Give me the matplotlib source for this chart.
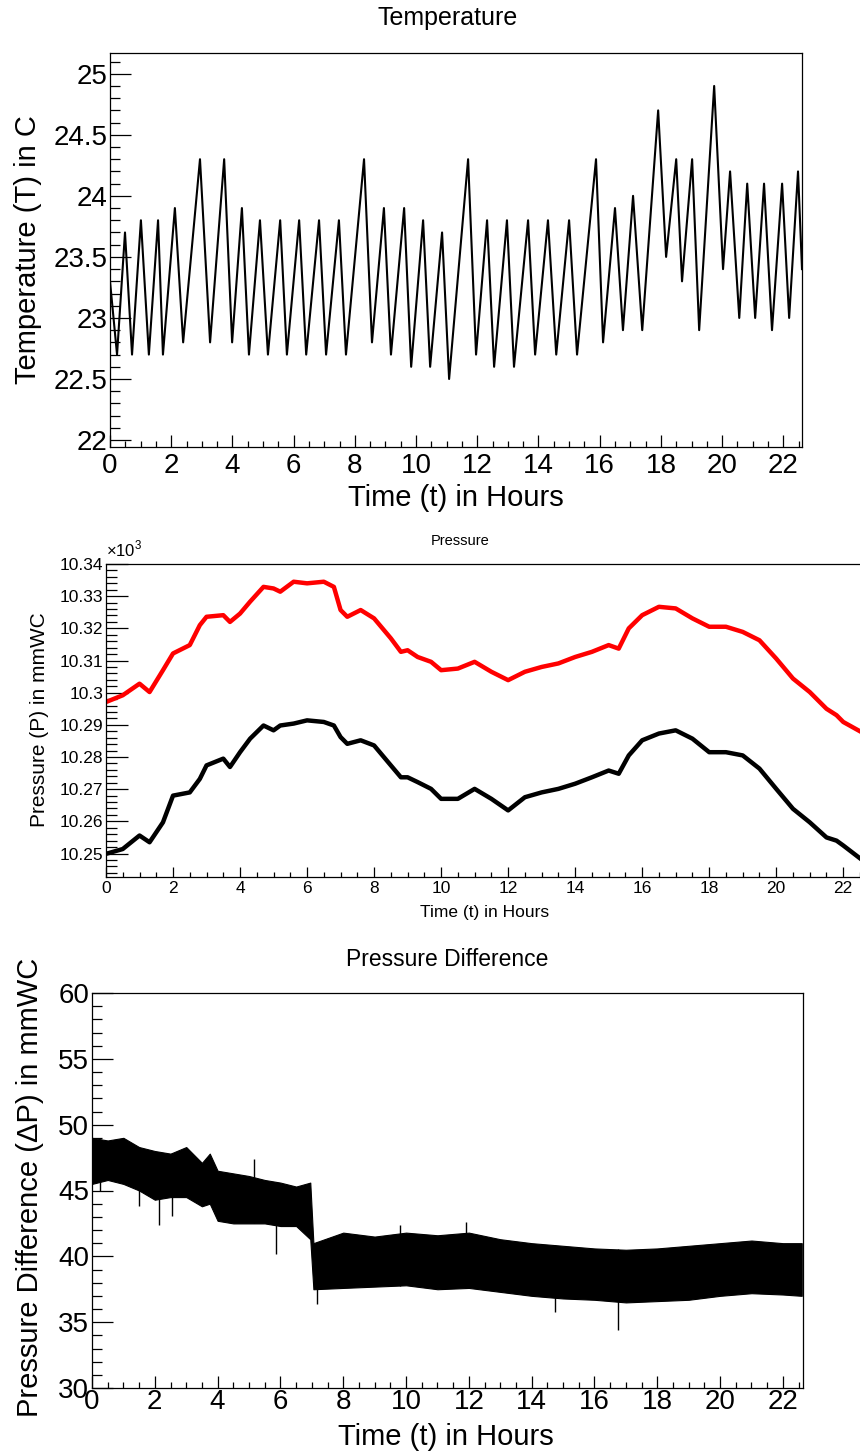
import numpy as np
import matplotlib
matplotlib.use('Agg')
import matplotlib.pyplot as plt
from matplotlib.ticker import MultipleLocator, FormatStrFormatter

plt.rcParams['font.family'] = ['Liberation Sans', 'DejaVu Sans']
plt.rcParams['mathtext.fontset'] = 'custom'
plt.rcParams['mathtext.rm'] = 'Liberation Sans'

# temperature: turning points of the saw-tooth (hours, deg C)
temp_t = [0.00, 0.23, 0.49, 0.72, 1.01, 1.27, 1.57, 1.73, 2.12, 2.39,
          2.94, 3.27, 3.73, 3.99, 4.31, 4.54, 4.90, 5.16, 5.56, 5.78,
          6.18, 6.41, 6.83, 7.06, 7.48, 7.71, 8.30, 8.56, 8.95, 9.18,
          9.61, 9.84, 10.23, 10.46, 10.85, 11.08, 11.70, 11.96, 12.32, 12.55,
          12.97, 13.20, 13.66, 13.89, 14.31, 14.58, 15.00, 15.26, 15.88, 16.11,
          16.50, 16.76, 17.09, 17.39, 17.91, 18.17, 18.50, 18.69, 19.02, 19.25,
          19.74, 20.03, 20.26, 20.56, 20.82, 21.08, 21.37, 21.63, 21.96, 22.19,
          22.48, 22.61]
temp_v = [23.3, 22.7, 23.7, 22.7, 23.8, 22.7, 23.8, 22.7, 23.9, 22.8,
          24.3, 22.8, 24.3, 22.8, 23.9, 22.7, 23.8, 22.7, 23.8, 22.7,
          23.8, 22.7, 23.8, 22.7, 23.8, 22.7, 24.3, 22.8, 23.9, 22.7,
          23.9, 22.6, 23.8, 22.6, 23.7, 22.5, 24.3, 22.7, 23.8, 22.6,
          23.8, 22.6, 23.8, 22.7, 23.8, 22.7, 23.8, 22.7, 24.3, 22.8,
          23.9, 22.9, 24.0, 22.9, 24.7, 23.5, 24.3, 23.3, 24.3, 22.9,
          24.9, 23.4, 24.2, 23.0, 24.1, 23.0, 24.1, 22.9, 24.1, 23.0,
          24.2, 23.4]

# pressure (x10^3 mmWC)
pres_t = [0, 0.5, 1.0, 1.3, 1.7, 2.0, 2.5, 2.8, 3.0, 3.5, 3.7, 4.0, 4.3, 4.7,
          5.0, 5.2, 5.6, 6.0, 6.5, 6.8, 7.0, 7.2, 7.6, 8.0, 8.5, 8.8, 9.0, 9.3,
          9.7, 10.0, 10.5, 11.0, 11.5, 12.0, 12.5, 13.0, 13.5, 14.0, 14.5, 15.0,
          15.3, 15.6, 16.0, 16.5, 17.0, 17.5, 18.0, 18.5, 19.0, 19.5, 20.0, 20.5,
          21.0, 21.5, 21.8, 22.0, 22.5]
pres_red = [10.2971, 10.2992, 10.3028, 10.3002, 10.3070, 10.3122, 10.3148, 10.3210,
            10.3236, 10.3241, 10.3220, 10.3246, 10.3283, 10.3329, 10.3324, 10.3314,
            10.3345, 10.3340, 10.3345, 10.3329, 10.3257, 10.3236, 10.3257, 10.3231,
            10.3169, 10.3127, 10.3132, 10.3111, 10.3096, 10.3070, 10.3075, 10.3096,
            10.3065, 10.3039, 10.3065, 10.3080, 10.3091, 10.3111, 10.3127, 10.3148,
            10.3137, 10.3200, 10.3241, 10.3267, 10.3262, 10.3231, 10.3205, 10.3205,
            10.3189, 10.3163, 10.3106, 10.3044, 10.3002, 10.2950, 10.2930, 10.2909,
            10.2880]
pres_black = [10.2499, 10.2514, 10.2556, 10.2535, 10.2597, 10.2680, 10.2690, 10.2732,
              10.2774, 10.2795, 10.2769, 10.2815, 10.2857, 10.2898, 10.2883, 10.2898,
              10.2904, 10.2914, 10.2909, 10.2898, 10.2862, 10.2841, 10.2852, 10.2836,
              10.2774, 10.2737, 10.2737, 10.2722, 10.2701, 10.2670, 10.2670, 10.2701,
              10.2670, 10.2634, 10.2675, 10.2690, 10.2701, 10.2717, 10.2737, 10.2758,
              10.2748, 10.2805, 10.2852, 10.2873, 10.2883, 10.2857, 10.2815, 10.2815,
              10.2805, 10.2764, 10.2701, 10.2639, 10.2597, 10.2550, 10.2540, 10.2525,
              10.2485]

# pressure difference: noise band edges (mmWC)
dp_t = [0, 0.5, 1.0, 1.5, 2.0, 2.5, 3.0, 3.5, 3.75, 4.0, 4.5, 5.0, 5.5, 6.0, 6.5,
        6.95, 7.05, 8, 9, 10, 11, 12, 13, 14, 15, 16, 17, 18, 19, 20, 21, 22, 22.6]
dp_hi = [49.0, 48.8, 49.0, 48.3, 48.0, 47.8, 48.3, 47.1, 47.8, 46.5, 46.3, 46.1,
         45.8, 45.6, 45.3, 45.6, 41.0, 41.8, 41.5, 41.8, 41.6, 41.8, 41.3, 41.0,
         40.8, 40.6, 40.5, 40.6, 40.8, 41.0, 41.2, 41.0, 41.0]
dp_lo = [45.5, 45.8, 45.5, 45.0, 44.3, 44.5, 44.5, 43.8, 44.0, 42.7, 42.5, 42.5,
         42.5, 42.3, 42.3, 41.3, 37.5, 37.6, 37.7, 37.8, 37.5, 37.6, 37.3, 37.0,
         36.8, 36.7, 36.5, 36.6, 36.7, 37.0, 37.2, 37.1, 37.0]
spike_t = [0.25, 1.51, 2.14, 2.54, 5.17, 5.86, 7.17, 9.8, 11.9, 14.75, 16.75]
spike_v = [45.0, 43.8, 42.4, 43.1, 47.4, 40.2, 36.4, 42.4, 42.6, 35.8, 34.4]

fig = plt.figure(figsize=(8.6, 14.55), dpi=100)
W, H = 860.0, 1455.0


def box(l, t, r, b):
    return [l / W, 1 - b / H, (r - l) / W, (b - t) / H]


def style(ax, xlen, ylen, size):
    ax.tick_params(which='both', direction='in', top=False, right=False, width=0.9)
    ax.tick_params(axis='x', which='major', length=xlen, labelsize=size, pad=4)
    ax.tick_params(axis='x', which='minor', length=xlen / 2)
    ax.tick_params(axis='y', which='major', length=ylen, labelsize=size, pad=2)
    ax.tick_params(axis='y', which='minor', length=ylen / 2)
    for sp in ax.spines.values():
        sp.set_linewidth(0.9)


# --- Temperature ---
ax1 = fig.add_axes(box(110, 53, 802, 447))
ax1.plot(temp_t, temp_v, color='black', lw=1.5)
ax1.set_xlim(0, 22.61)
ax1.set_ylim(21.943, 25.17)
ax1.xaxis.set_major_locator(MultipleLocator(2))
ax1.xaxis.set_minor_locator(MultipleLocator(0.5))
ax1.yaxis.set_major_locator(MultipleLocator(0.5))
ax1.yaxis.set_minor_locator(MultipleLocator(0.1))
ax1.yaxis.set_major_formatter(FormatStrFormatter('%g'))
style(ax1, 8.5, 15, 20)
fig.text(448 / W, 1 - 18 / H, 'Temperature', ha='center', va='center', fontsize=18)
fig.text(456 / W, 1 - 498 / H, 'Time (t) in Hours', ha='center', va='center', fontsize=21)
fig.text(28 / W, 1 - 250 / H, 'Temperature (T) in C', ha='center', va='center',
         rotation=90, fontsize=21)

# --- Pressure ---
ax2 = fig.add_axes(box(106, 564, 860, 877))
ax2.plot(pres_t, pres_red, color='red', lw=3.2)
ax2.plot(pres_t, pres_black, color='black', lw=3.2)
ax2.set_xlim(0, 22.5)
ax2.set_ylim(10.2427, 10.34001)
ax2.xaxis.set_major_locator(MultipleLocator(2))
ax2.xaxis.set_minor_locator(MultipleLocator(0.5))
ax2.yaxis.set_major_locator(MultipleLocator(0.01))
ax2.yaxis.set_minor_locator(MultipleLocator(0.002))
ax2.yaxis.set_major_formatter(FormatStrFormatter('%g'))
ax2.spines['right'].set_visible(False)
ax2.spines['top'].set_linewidth(1.6)
style(ax2, 7, 16, 12.5)
ax2.tick_params(axis='x', pad=3)
fig.text(460 / W, 1 - 541 / H, 'Pressure', ha='center', va='center', fontsize=10.5)
fig.text(485 / W, 1 - 913 / H, 'Time (t) in Hours', ha='center', va='center',
         fontsize=12.5)
fig.text(40 / W, 1 - 720 / H, 'Pressure (P) in mmWC', ha='center', va='center',
         rotation=90, fontsize=15)
fig.text(106 / W, 1 - 549 / H, r'$\times$10$^{3}$', ha='left', va='center',
         fontsize=12)

# --- Pressure Difference ---
ax3 = fig.add_axes(box(92, 993, 803, 1388))
ax3.fill_between(dp_t, dp_lo, dp_hi, color='black', lw=0.8)
ax3.vlines(spike_t, np.minimum(spike_v, np.interp(spike_t, dp_t, dp_lo)),
           np.maximum(spike_v, np.interp(spike_t, dp_t, dp_hi)), color='black', lw=1)
ax3.set_xlim(0, 22.64)
ax3.set_ylim(30, 60)
ax3.xaxis.set_major_locator(MultipleLocator(2))
ax3.xaxis.set_minor_locator(MultipleLocator(0.5))
ax3.yaxis.set_major_locator(MultipleLocator(5))
ax3.yaxis.set_minor_locator(MultipleLocator(1))
style(ax3, 8.6, 15, 20)
ax3.tick_params(axis='x', pad=1)
fig.text(447 / W, 1 - 960 / H, 'Pressure Difference', ha='center', va='center', fontsize=16.5)
fig.text(446 / W, 1 - 1437 / H, 'Time (t) in Hours', ha='center', va='center', fontsize=21)
fig.text(30 / W, 1 - 1187 / H, 'Pressure Difference (\u0394P) in mmWC', ha='center',
         va='center', rotation=90, fontsize=21)

fig.savefig('out.png', dpi=100)
